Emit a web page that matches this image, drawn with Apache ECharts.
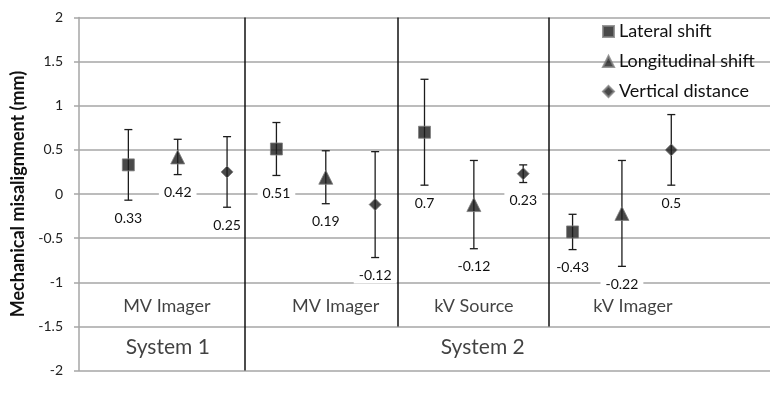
<!DOCTYPE html>
<html>
<head>
<meta charset="utf-8">
<script src="https://cdn.jsdelivr.net/npm/echarts@6/dist/echarts.min.js"></script>
<style>
  html, body { margin: 0; padding: 0; background: #fff; }
  #chart { width: 777px; height: 403px; }
</style>
</head>
<body>
<div id="chart"></div>
<script>
// one entry per group: MV Imager (System 1), MV Imager, kV Source, kV Imager (System 2)
const groupNames = ['MV Imager', 'MV Imager', 'kV Source', 'kV Imager'];
const systemNames = ['System 1', 'System 2'];

const seriesNames = ['Lateral shift', 'Longitudinal shift', 'Vertical distance'];
const lateralMean = [0.33, 0.51, 0.7, -0.43];
const lateralLow = [-0.07, 0.21, 0.1, -0.63];
const lateralHigh = [0.73, 0.81, 1.3, -0.23];

const longitudinalMean = [0.42, 0.19, -0.12, -0.22];
const longitudinalLow = [0.22, -0.11, -0.62, -0.82];
const longitudinalHigh = [0.62, 0.49, 0.38, 0.38];

const verticalMean = [0.25, -0.12, 0.23, 0.5];
const verticalLow = [-0.15, -0.72, 0.13, 0.1];
const verticalHigh = [0.65, 0.48, 0.33, 0.9];

const yTicks = [-2, -1.5, -1, -0.5, 0, 0.5, 1, 1.5, 2];

const FONT = 'Lato, "Open Sans", sans-serif';
const allMeans = [lateralMean, longitudinalMean, verticalMean];
const allLows = [lateralLow, longitudinalLow, verticalLow];
const allHighs = [lateralHigh, longitudinalHigh, verticalHigh];

// x slot of a point: three slots per group, starting at 1
const slot = (g, s) => g * 3 + s + 1;

const errorData = [];
groupNames.forEach((_, g) => {
  for (let s = 0; s < 3; s++) {
    errorData.push([slot(g, s), allLows[s][g], allHighs[s][g], allMeans[s][g]]);
  }
});

const myChart = echarts.init(document.getElementById('chart'));

const symbols = ['rect', 'triangle', 'diamond'];
const symbolSizes = [12, 14, 12];

const pointSeries = seriesNames.map((name, s) => ({
  name,
  type: 'scatter',
  symbol: symbols[s],
  symbolSize: symbolSizes[s],
  z: 5,
  itemStyle: { color: '#1c1c1c', borderColor: '#808080', borderWidth: 1 },
  data: groupNames.map((_, g) => [slot(g, s), allMeans[s][g]])
}));

// vertical separators between groups
pointSeries[0].markLine = {
  symbol: 'none',
  silent: true,
  label: { show: false },
  lineStyle: { color: '#111', width: 1.5, type: 'solid' },
  data: [
    [{ coord: [3.36, 2] }, { coord: [3.36, -2] }],
    [{ coord: [6.46, 2] }, { coord: [6.46, -1.5] }],
    [{ coord: [9.52, 2] }, { coord: [9.52, -1.5] }]
  ]
};

// where the group / system captions sit (x in slot units, y in mm)
const captionX = [1.78, 5.2, 8.0, 11.22];
const systemX = [1.8, 8.18];

myChart.setOption({
  animation: false,
  legend: {
    data: seriesNames,
    orient: 'vertical',
    left: 597,
    top: 16,
    itemWidth: 11,
    itemHeight: 11,
    itemGap: 9,
    textStyle: { fontFamily: FONT, fontSize: 18, color: '#111', lineHeight: 21 }
  },
  grid: { left: 79, right: 7, top: 17.5, bottom: 32.5 },
  xAxis: {
    type: 'value',
    min: 0,
    max: 14,
    show: false
  },
  yAxis: {
    type: 'value',
    min: yTicks[0],
    max: yTicks[yTicks.length - 1],
    interval: 0.5,
    name: 'Mechanical misalignment (mm)',
    nameLocation: 'middle',
    nameGap: 52,
    nameRotate: 90,
    nameTextStyle: { fontFamily: FONT, fontSize: 18, fontWeight: 'bold', color: '#111' },
    axisLine: { show: true, lineStyle: { color: '#a6a6a6', width: 1.5 } },
    axisTick: { show: true, inside: false, length: 5, lineStyle: { color: '#a6a6a6', width: 1.5 } },
    splitLine: { show: true, lineStyle: { color: '#a6a6a6', width: 1.5 } },
    axisLabel: { fontFamily: FONT, fontSize: 14, color: '#222', margin: 16 }
  },
  series: [
    {
      name: 'errors',
      type: 'custom',
      z: 3,
      silent: true,
      renderItem: (params, api) => {
        const x = api.value(0);
        const lo = api.coord([x, api.value(1)]);
        const hi = api.coord([x, api.value(2)]);
        const cap = 4;
        const line = { stroke: '#1c1c1c', lineWidth: 1.3 };
        return {
          type: 'group',
          children: [
            { type: 'line', shape: { x1: lo[0], y1: lo[1], x2: hi[0], y2: hi[1] }, style: line },
            { type: 'line', shape: { x1: hi[0] - cap, y1: hi[1], x2: hi[0] + cap, y2: hi[1] }, style: line },
            { type: 'line', shape: { x1: lo[0] - cap, y1: lo[1], x2: lo[0] + cap, y2: lo[1] }, style: line },
            {
              type: 'text',
              z2: 10,
              style: {
                text: String(api.value(3)),
                x: lo[0],
                y: lo[1] + 18,
                align: 'center',
                verticalAlign: 'middle',
                font: '14px ' + FONT,
                fill: '#111',
                backgroundColor: '#fff',
                padding: [1, 5]
              }
            }
          ]
        };
      },
      data: errorData
    },
    ...pointSeries,
    {
      name: 'captions',
      type: 'scatter',
      silent: true,
      symbolSize: 0,
      z: 2,
      label: {
        show: true,
        position: 'inside',
        formatter: '{b}',
        fontFamily: FONT,
        fontSize: 18,
        color: '#111'
      },
      data: groupNames.map((name, g) => ({ name, value: [captionX[g], -1.27] }))
        .concat(systemNames.map((name, i) => ({
          name,
          value: [systemX[i], -1.74],
          label: { fontSize: 21 }
        })))
    }
  ]
});
</script>
</body>
</html>
